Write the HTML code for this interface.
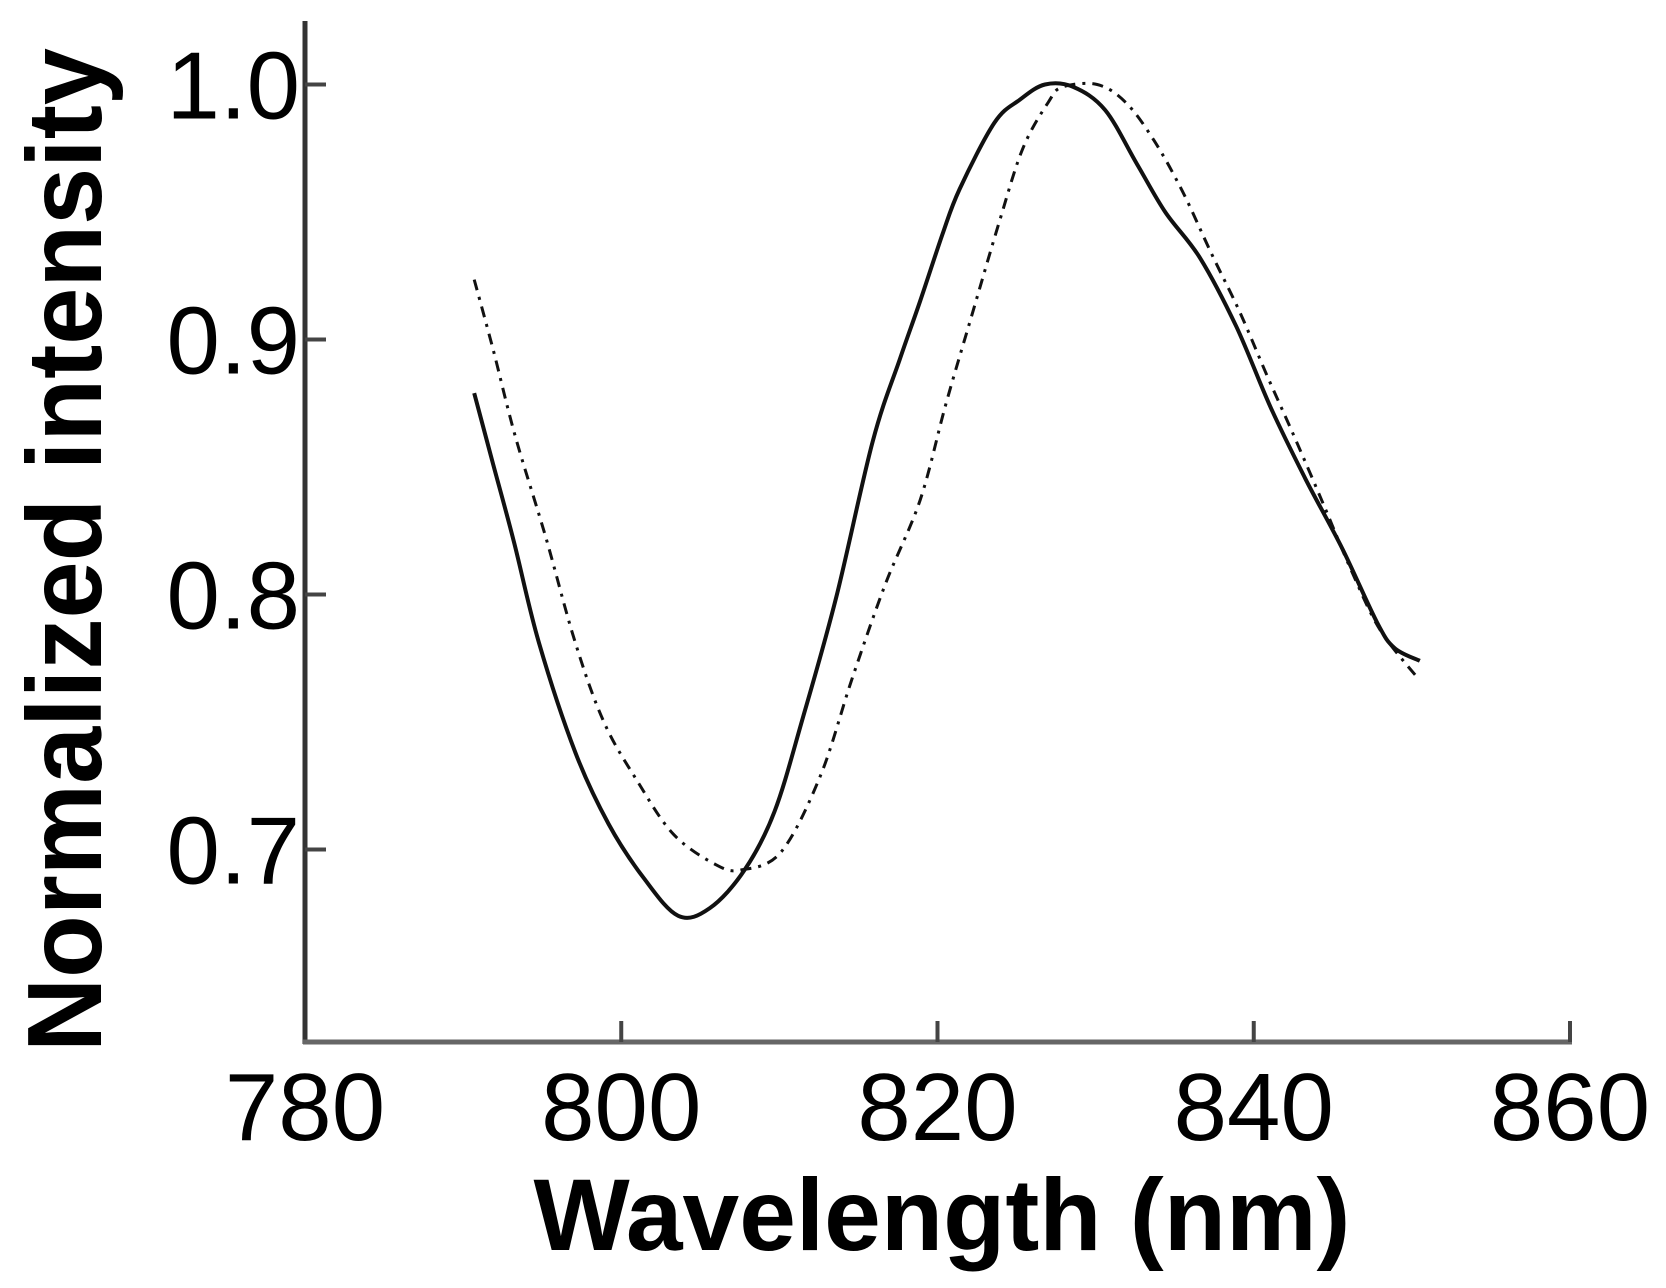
<!DOCTYPE html>
<html>
<head>
<meta charset="utf-8">
<style>
  html,body{margin:0;padding:0;background:#fff;}
  svg{display:block;}
  text{font-family:"Liberation Sans",Arial,sans-serif;fill:#000;}
</style>
</head>
<body>
<svg id="chart" width="1666" height="1288" viewBox="0 0 1666 1288" xmlns="http://www.w3.org/2000/svg">
  <rect x="0" y="0" width="1666" height="1288" fill="#fff"/>
  <g id="axes"></g>
  <g id="series"></g>
  <text x="942" y="1250" font-size="102" font-weight="bold" text-anchor="middle" textLength="817" lengthAdjust="spacingAndGlyphs">Wavelength (nm)</text>
  <text transform="translate(101,550) rotate(-90)" x="0" y="0" font-size="106" font-weight="bold" text-anchor="middle" textLength="1004" lengthAdjust="spacingAndGlyphs">Normalized intensity</text>
</svg>
<script>
const xTicks = [780, 800, 820, 840, 860];
const xTickLabels = ["780", "800", "820", "840", "860"];
const yTicks = [0.7, 0.8, 0.9, 1.0];
const yTickLabels = ["0.7", "0.8", "0.9", "1.0"];

const solidWavelength = [790.7, 791.9, 793.2, 794.8, 797.1, 799.2, 801.4, 803.6, 805.6, 807.8, 809.7, 811.5, 813.6, 815.9, 817.6, 818.9, 820.3, 821.4, 823.6, 825.2, 826.8, 828.6, 830.6, 832.6, 834.4, 836.6, 838.9, 841.1, 843.3, 845.6, 847.8, 848.9, 850.5];
const solidIntensity = [0.879, 0.851, 0.821, 0.781, 0.738, 0.710, 0.689, 0.674, 0.677, 0.692, 0.715, 0.752, 0.799, 0.860, 0.892, 0.915, 0.941, 0.959, 0.985, 0.994, 1.000, 0.999, 0.990, 0.969, 0.950, 0.932, 0.905, 0.873, 0.845, 0.818, 0.789, 0.779, 0.774];

const dashWavelength = [790.7, 791.9, 793.3, 795.2, 797.1, 798.9, 801.0, 803.3, 806.0, 807.6, 810.1, 812.6, 814.6, 816.7, 818.9, 820.5, 822.1, 823.9, 825.4, 827.0, 827.9, 830.1, 831.9, 833.7, 835.5, 837.3, 839.1, 840.9, 842.7, 844.5, 846.2, 848.0, 850.4];
const dashIntensity = [0.9235, 0.896, 0.862, 0.823, 0.781, 0.750, 0.727, 0.706, 0.694, 0.692, 0.699, 0.729, 0.767, 0.804, 0.837, 0.874, 0.908, 0.946, 0.975, 0.993, 0.999, 1.000, 0.993, 0.978, 0.958, 0.934, 0.911, 0.885, 0.860, 0.834, 0.809, 0.786, 0.767];

const NS = "http://www.w3.org/2000/svg";
const X0 = 305, X1 = 1570, Y_AXIS = 1042, Y_TOP = 21;
function xScale(v){ return X0 + (v - 780) / 80 * (X1 - X0); }
function yScale(v){ return 84.5 + (1.0 - v) * 2550; }

const axes = document.getElementById('axes');
const series = document.getElementById('series');

function mk(tag, attrs){
  const e = document.createElementNS(NS, tag);
  for (const k in attrs) e.setAttribute(k, attrs[k]);
  return e;
}

const yAxis = mk('line', {x1:X0, y1:Y_TOP, x2:X0, y2:Y_AXIS+2, stroke:'#333', 'stroke-width':5});


axes.appendChild(yAxis);
const xAxis = mk('line', {x1:X0-2, y1:Y_AXIS, x2:X1+2, y2:Y_AXIS, stroke:'#666', 'stroke-width':5});


axes.appendChild(xAxis);

xTicks.forEach((t, i) => {
  const x = xScale(t);
  if (i > 0) {
    const tk = mk('line', {x1:x, y1:Y_AXIS, x2:x, y2:Y_AXIS-21, stroke:'#444', 'stroke-width':4});
    
    
    axes.appendChild(tk);
  }
  const lb = mk('text', {x:x, y:1140, 'font-size':96, 'text-anchor':'middle'});
  lb.textContent = xTickLabels[i];
  
  
  axes.appendChild(lb);
});

yTicks.forEach((t, i) => {
  const y = yScale(t);
  const tk = mk('line', {x1:X0, y1:y, x2:X0+21, y2:y, stroke:'#444', 'stroke-width':4});
  
  
  axes.appendChild(tk);
  const lb = mk('text', {x:300, y:y+34, 'font-size':96, 'text-anchor':'end'});
  lb.textContent = yTickLabels[i];
  
  
  axes.appendChild(lb);
});

function pathFrom(xs, ys){
  const p = xs.map((v, i) => [xScale(v), yScale(ys[i])]);
  let d = 'M' + p[0][0].toFixed(1) + ',' + p[0][1].toFixed(1);
  for (let i = 0; i < p.length - 1; i++) {
    const p0 = p[Math.max(0, i-1)], p1 = p[i], p2 = p[i+1], p3 = p[Math.min(p.length-1, i+2)];
    const c1x = p1[0] + (p2[0]-p0[0])/6, c1y = p1[1] + (p2[1]-p0[1])/6;
    const c2x = p2[0] - (p3[0]-p1[0])/6, c2y = p2[1] - (p3[1]-p1[1])/6;
    d += ' C' + c1x.toFixed(1) + ',' + c1y.toFixed(1) + ' ' + c2x.toFixed(1) + ',' + c2y.toFixed(1) + ' ' + p2[0].toFixed(1) + ',' + p2[1].toFixed(1);
  }
  return d;
}

const solid = mk('path', {d:pathFrom(solidWavelength, solidIntensity), fill:'none', stroke:'#111', 'stroke-width':4, 'stroke-linejoin':'round'});


series.appendChild(solid);

const dash = mk('path', {d:pathFrom(dashWavelength, dashIntensity), fill:'none', stroke:'#111', 'stroke-width':3, 'stroke-dasharray':'11 7 3 7'});


series.appendChild(dash);
</script>
</body>
</html>
